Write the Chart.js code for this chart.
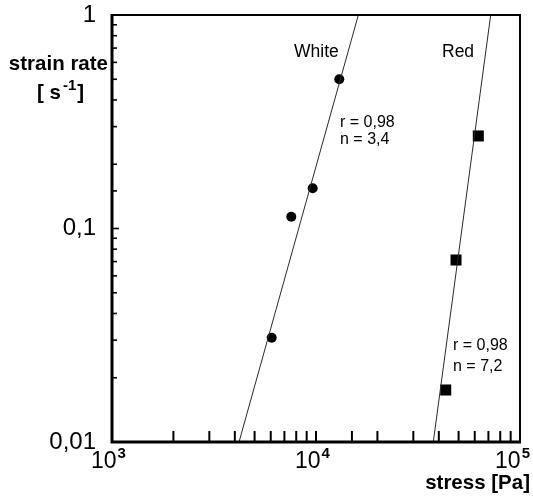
<!DOCTYPE html>
<html><head><meta charset="utf-8">
<script src="https://cdn.jsdelivr.net/npm/chart.js@4.4.1/dist/chart.umd.min.js"></script>
<style>html,body{margin:0;padding:0;background:#fff;}</style>
</head><body>
<canvas id="c" width="533" height="500"></canvas>
<script>
// ---- data ----
const whiteStress = [6065, 7567, 9634, 13005];
const whiteRate   = [0.0308, 0.1136, 0.1543, 0.4998];
const redStress   = [43230, 48570, 62460];
const redRate     = [0.01752, 0.0712, 0.2713];
const whiteFitStress = [4194, 16125];
const whiteFitRate   = [0.01, 1];
const redFitStress   = [37580, 71840];
const redFitRate     = [0.01, 1];
const xTickValues    = [1e3, 1e4, 1e5];
const xTickExponents = ['3', '4', '5'];
const yTickValues    = [0.01, 0.1, 1];
const yTickLabels    = ['0,01', '0,1', '1'];
const seriesNames    = ['White', 'Red'];
const whiteFitText   = ['r = 0,98', 'n = 3,4'];
const redFitText     = ['r = 0,98', 'n = 7,2'];
const yTitle = ['strain rate', '[ s', '-1', ']'];
const xTitle = 'stress [Pa]';

const FONT = '"Liberation Sans", Arial, Helvetica, sans-serif';
const pts = (xs, ys) => xs.map((v, i) => ({x: v, y: ys[i]}));
const isDecade = v => Math.abs(Math.log10(v) - Math.round(Math.log10(v))) < 1e-6;

const framePlugin = {
  id: 'frame',
  afterDraw(chart) {
    const {ctx, chartArea: a, scales: {x, y}} = chart;
    ctx.save();
    ctx.strokeStyle = '#000';
    ctx.fillStyle = '#000';
    // frame: heavier left/bottom axes
    ctx.lineWidth = 2;
    ctx.beginPath(); ctx.moveTo(a.left, a.top); ctx.lineTo(a.right, a.top); ctx.lineTo(a.right, a.bottom); ctx.stroke();
    ctx.lineWidth = 3;
    ctx.beginPath(); ctx.moveTo(a.left, a.top - 1); ctx.lineTo(a.left, a.bottom); ctx.lineTo(a.right + 1, a.bottom); ctx.stroke();
    // x tick marks (inward)
    ctx.lineWidth = 2;
    x.ticks.forEach(t => {
      const px = x.getPixelForValue(t.value);
      if (px <= a.left + 2 || px >= a.right - 2) return;
      ctx.beginPath(); ctx.moveTo(px, a.bottom); ctx.lineTo(px, a.bottom - 11); ctx.stroke();
    });
    // y tick marks (inward)
    ctx.lineWidth = 1.6;
    y.ticks.forEach(t => {
      const py = y.getPixelForValue(t.value);
      if (py >= a.bottom - 2 || py <= a.top + 2) return;
      const len = isDecade(t.value) ? 7 : 5;
      ctx.beginPath(); ctx.moveTo(a.left, py); ctx.lineTo(a.left + len, py); ctx.stroke();
    });
    // x tick labels 10^n
    ctx.textBaseline = 'alphabetic';
    ctx.textAlign = 'left';
    xTickValues.forEach((v, i) => {
      const px = x.getPixelForValue(v);
      ctx.font = '23px ' + FONT; const w1 = ctx.measureText('10').width;
      ctx.font = 'bold 15px ' + FONT; const w2 = ctx.measureText(xTickExponents[i]).width;
      let left = px - (w1 + w2) / 2 - 4;
      if (left + w1 + w2 > 529) left = 529 - w1 - w2;
      ctx.font = '23px ' + FONT; ctx.fillText('10', left, 468);
      ctx.font = 'bold 15px ' + FONT; ctx.fillText(xTickExponents[i], left + w1 + 1, 458);
    });
    // axis titles
    const TB = 'bold 20.5px ' + FONT;
    ctx.font = TB;
    ctx.textAlign = 'right'; ctx.textBaseline = 'middle';
    ctx.fillText(yTitle[0], 108, 64);
    ctx.textAlign = 'left';
    let xx = 37;
    ctx.font = TB; ctx.fillText(yTitle[1], xx, 93); xx += ctx.measureText(yTitle[1]).width + 2;
    ctx.font = 'bold 15px ' + FONT; ctx.fillText(yTitle[2], xx, 86); xx += ctx.measureText(yTitle[2]).width + 1;
    ctx.font = TB; ctx.fillText(yTitle[3], xx, 93);
    ctx.textAlign = 'right';
    ctx.font = TB; ctx.fillText(xTitle, 530, 483);
    // annotations
    ctx.textAlign = 'left';
    ctx.font = '17.5px ' + FONT;
    ctx.fillText(seriesNames[0], 294, 52);
    ctx.fillText(seriesNames[1], 442, 52);
    ctx.font = '16px ' + FONT;
    ctx.fillText(whiteFitText[0], 340, 123);
    ctx.fillText(whiteFitText[1], 340, 140);
    ctx.fillText(redFitText[0], 453, 346);
    ctx.fillText(redFitText[1], 453, 367);
    ctx.restore();
  }
};

new Chart(document.getElementById('c'), {
  type: 'scatter',
  data: {
    datasets: [
      {label: seriesNames[0] + ' fit', data: pts(whiteFitStress, whiteFitRate), showLine: true,
       borderColor: '#2a2a2a', borderWidth: 1, pointRadius: 0, fill: false},
      {label: seriesNames[1] + ' fit', data: pts(redFitStress, redFitRate), showLine: true,
       borderColor: '#2a2a2a', borderWidth: 1, pointRadius: 0, fill: false},
      {label: seriesNames[0], data: pts(whiteStress, whiteRate), pointStyle: 'circle', pointRadius: 5,
       backgroundColor: '#000', borderColor: '#000', borderWidth: 0},
      {label: seriesNames[1], data: pts(redStress, redRate), pointStyle: 'rect', pointRadius: 7.8,
       backgroundColor: '#000', borderColor: '#000', borderWidth: 0}
    ]
  },
  options: {
    responsive: false,
    animation: false,
    devicePixelRatio: 1,
    layout: {padding: {top: 15, right: 13, left: 0, bottom: 0}},
    plugins: {legend: {display: false}, tooltip: {enabled: false}},
    scales: {
      x: {
        type: 'logarithmic', min: 1000, max: 100000, position: 'bottom',
        grid: {display: false}, border: {display: false},
        ticks: {display: false},
        afterFit: s => { s.height = 58; s.paddingLeft = 0; s.paddingRight = 0; }
      },
      y: {
        type: 'logarithmic', min: 0.01, max: 1, position: 'left',
        grid: {display: false}, border: {display: false},
        ticks: {
          autoSkip: false, padding: 8, color: '#000',
          font: {family: FONT, size: 24},
          callback: v => {
            const i = yTickValues.findIndex(t => Math.abs(Math.log10(t) - Math.log10(v)) < 1e-6);
            return i >= 0 ? yTickLabels[i] : '';
          }
        },
        afterFit: s => { s.width = 112; s.paddingTop = 0; s.paddingBottom = 0; }
      }
    }
  },
  plugins: [framePlugin]
});
</script>
</body></html>
